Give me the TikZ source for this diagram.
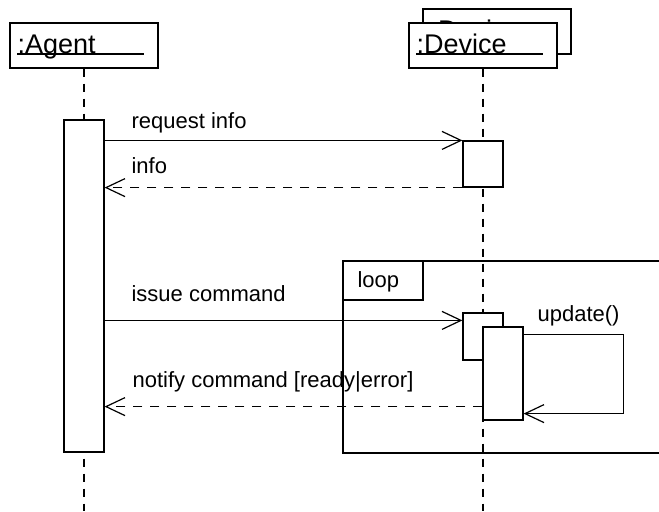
\documentclass[tikz,border=0pt]{standalone}
\usepackage{fontspec}
\setmainfont{Liberation Sans}
\usetikzlibrary{arrows.meta}
\begin{document}
\begin{tikzpicture}[x=0.5pt,y=-0.5pt,line width=0.6pt,font=\fontsize{11}{13}\selectfont,
  obj/.style={draw,fill=white,minimum width=74pt,minimum height=22.5pt,inner sep=0pt},
  act/.style={draw,fill=white,minimum width=20pt,inner sep=0pt},
  life/.style={dash pattern=on 4pt off 3.5pt},
  msg/.style={-{Straight Barb[length=9.5pt,width=9pt]}},
  ret/.style={msg,dash pattern=on 4.5pt off 4pt},
  lbl/.style={anchor=base west,inner sep=0pt},
  hd/.style={lbl,font=\fontsize{13.5}{16}\selectfont}]
\useasboundingbox(0,0)rectangle(659,511);
% objects
\node[obj](devb)at(497,31.5){};
\node[hd](devbt)at(430,39){:Device};
\node[obj](dev)at(483,45.5){};
\node[hd](devt)at(416,53){:Device};
\draw(416,54)--(543,54);
\node[obj](ag)at(84,45.5){};
\node[hd](agt)at(17,53){:Agent};
\draw(17,54)--(144,54);
% lifelines
\coordinate(agEnd)at(84,511);
\coordinate(devEnd)at(483,511);
\draw[life](ag.south)--(agEnd);
\draw[life](dev.south)--(devEnd);
% loop fragment
\draw(659,261)-|(343,453)--(659,453);
\draw(343,300)-|(423,261);
\node[lbl](lp)at(357,287){loop};
% activations
\node[act,minimum height=166pt](agA)at(84,286){};
\node[act,minimum height=23pt](dvA)at(483,164){};
\node[act,minimum height=23.5pt](dvB)at(483,336.5){};
\node[act,minimum height=46.5pt](dvC)at(503,373.5){};
% messages
\draw[msg](agA.east|-dvA.north)--(dvA.north west);
\node[lbl](m1)at(131,128){request info};
\draw[ret](dvA.south west)--(agA.east|-dvA.south);
\node[lbl](m2)at(131,173){info};
\path([yshift=-4pt]dvB.north west)coordinate(cmd);
\draw[msg](agA.east|-cmd)--(cmd);
\node[lbl](m3)at(131,301){issue command};
\draw[msg]([yshift=-4pt]dvC.north east)--++(100,0)|-([yshift=3.5pt]dvC.south east);
\node[lbl](m4)at(537,321){update()};
\path([yshift=7pt]dvC.south west)coordinate(ntf);
\draw[ret](ntf)--(agA.east|-ntf);
\node[lbl](m5)at(132,387){notify command [ready|error]};
\end{tikzpicture}
\end{document}
